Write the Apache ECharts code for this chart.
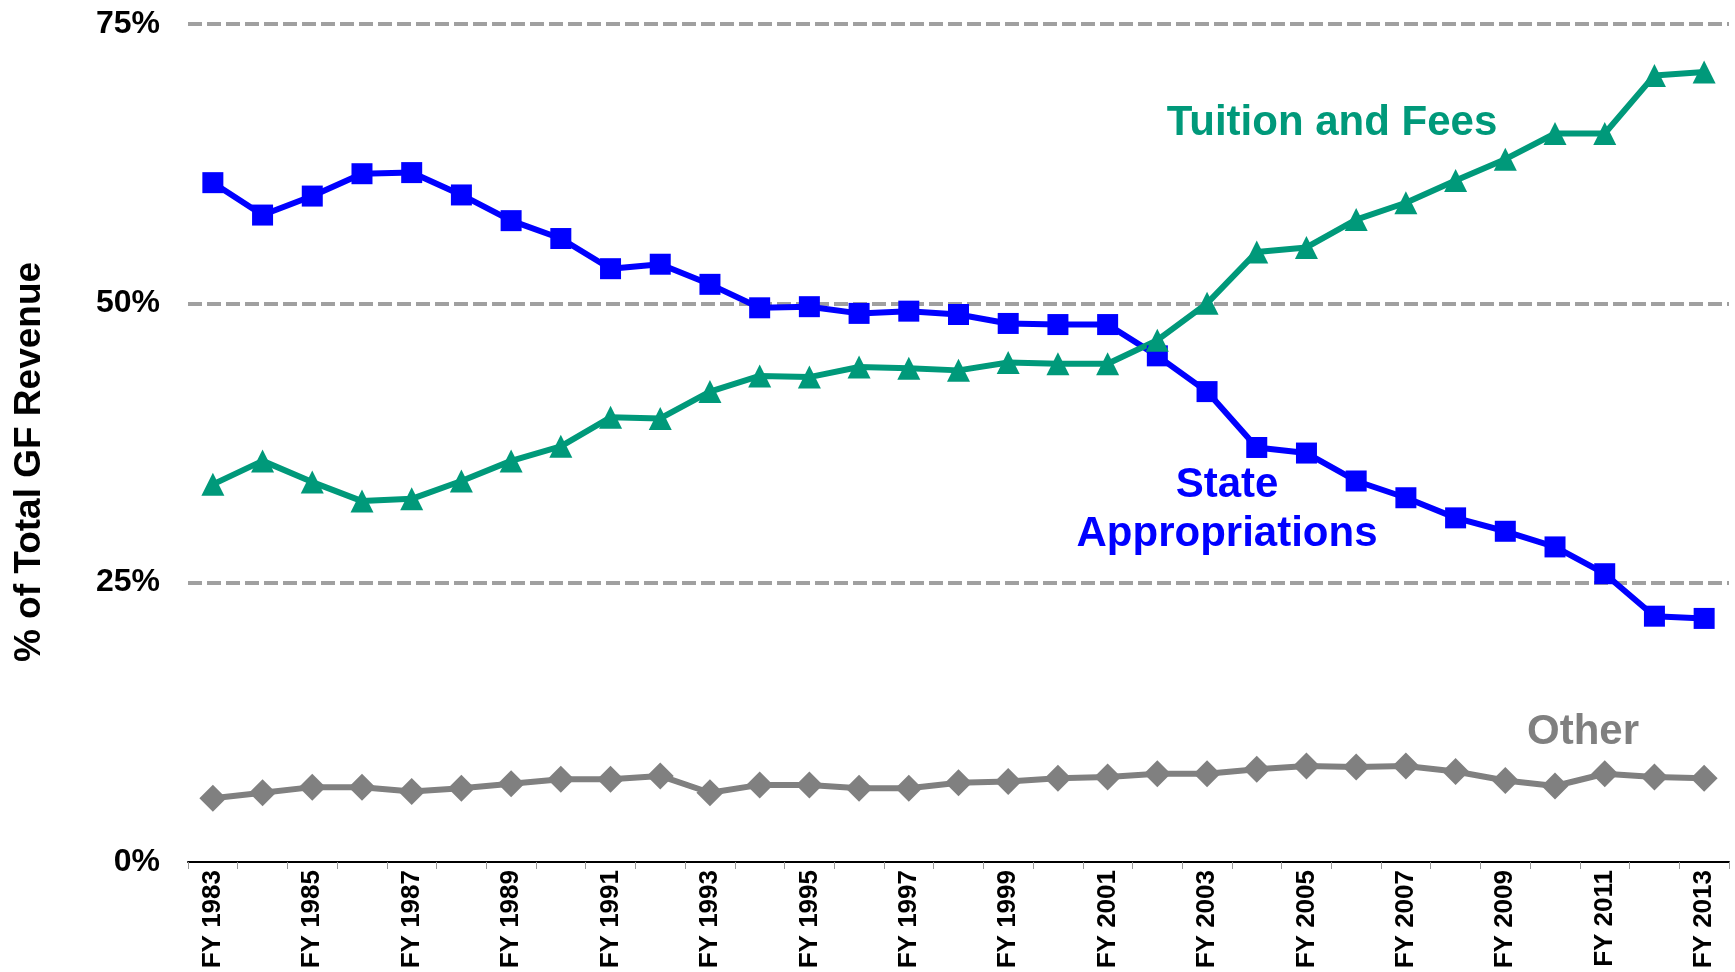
<!DOCTYPE html>
<html>
<head>
<meta charset="utf-8">
<script src="https://cdn.jsdelivr.net/npm/echarts@6/dist/echarts.min.js"></script>
<style>
html, body { margin: 0; padding: 0; background: #fff; }
#chart { width: 1735px; height: 972px; }
</style>
</head>
<body>
<div id="chart"></div>
<script>
// fiscal years on the x axis
var years = ['FY 1983', 'FY 1984', 'FY 1985', 'FY 1986', 'FY 1987', 'FY 1988', 'FY 1989', 'FY 1990',
    'FY 1991', 'FY 1992', 'FY 1993', 'FY 1994', 'FY 1995', 'FY 1996', 'FY 1997', 'FY 1998',
    'FY 1999', 'FY 2000', 'FY 2001', 'FY 2002', 'FY 2003', 'FY 2004', 'FY 2005', 'FY 2006',
    'FY 2007', 'FY 2008', 'FY 2009', 'FY 2010', 'FY 2011', 'FY 2012', 'FY 2013']

// % of total GF revenue
var stateAppropriations = [60.8, 57.9, 59.6, 61.6, 61.7, 59.7, 57.4, 55.8, 53.1, 53.5, 51.7, 49.6, 49.7,
    49.1, 49.3, 49.0, 48.2, 48.1, 48.1, 45.3, 42.1, 37.1, 36.6, 34.1, 32.6, 30.8, 29.6, 28.2, 25.8, 22.0, 21.8]
var tuitionAndFees = [33.8, 35.9, 34.0, 32.3, 32.5, 34.1, 35.9, 37.2, 39.8, 39.7, 42.1, 43.5, 43.4,
    44.3, 44.2, 44.0, 44.7, 44.6, 44.6, 46.7, 50.0, 54.6, 55.0, 57.5, 59.0, 61.0, 62.9, 65.2, 65.2, 70.4, 70.7]
var other = [5.7, 6.2, 6.7, 6.7, 6.3, 6.6, 7.0, 7.4, 7.4, 7.7, 6.2, 6.9, 6.9,
    6.6, 6.6, 7.1, 7.2, 7.5, 7.6, 7.9, 7.9, 8.3, 8.6, 8.5, 8.6, 8.1, 7.3, 6.8, 7.9, 7.6, 7.5]

var yTicks = { min: 0, max: 75, interval: 25 }

var FONT = '"Liberation Sans", Arial, sans-serif'
var BLUE = '#0000FF'
var GREEN = '#00997A'
var GRAY = '#808080'

var chart = echarts.init(document.getElementById('chart'))

var option = {
    animation: false,
    backgroundColor: '#fff',
    grid: {
        left: 188,
        right: 6,
        top: 24,
        bottom: 110,
        outerBoundsMode: 'none',
        containLabel: false
    },
    xAxis: {
        type: 'category',
        data: years,
        boundaryGap: true,
        z: 5,
        axisLine: { lineStyle: { color: '#000', width: 2 } },
        axisTick: {
            show: true,
            length: 7,
            interval: 0,
            lineStyle: { color: '#999', width: 1 }
        },
        axisLabel: {
            interval: 1,
            rotate: 90,
            margin: 8,
            color: '#000',
            fontFamily: FONT,
            fontWeight: 'bold',
            fontSize: 26
        }
    },
    yAxis: {
        type: 'value',
        min: yTicks.min,
        max: yTicks.max,
        interval: yTicks.interval,
        axisLine: { show: false },
        axisTick: { show: false },
        axisLabel: {
            formatter: '{value}%',
            margin: 28,
            color: '#000',
            fontFamily: FONT,
            fontWeight: 'bold',
            fontSize: 32
        },
        splitLine: {
            showMinLine: false,
            lineStyle: { color: '#a0a0a0', width: 4, type: [14, 5] }
        }
    },
    // y axis title and the series annotations
    graphic: [
        {
            type: 'text', x: 30, y: 462, rotation: Math.PI / 2,
            style: {
                text: '% of Total GF Revenue', fill: '#000',
                font: 'bold 37px ' + FONT, textAlign: 'center', textVerticalAlign: 'middle'
            }
        },
        {
            type: 'text', x: 1332, y: 123,
            style: {
                text: 'Tuition and Fees', fill: GREEN,
                font: 'bold 42px ' + FONT, textAlign: 'center', textVerticalAlign: 'middle'
            }
        },
        {
            type: 'text', x: 1227, y: 485,
            style: {
                text: 'State', fill: BLUE,
                font: 'bold 42px ' + FONT, textAlign: 'center', textVerticalAlign: 'middle'
            }
        },
        {
            type: 'text', x: 1227, y: 534,
            style: {
                text: 'Appropriations', fill: BLUE,
                font: 'bold 42px ' + FONT, textAlign: 'center', textVerticalAlign: 'middle'
            }
        },
        {
            type: 'text', x: 1583, y: 732,
            style: {
                text: 'Other', fill: GRAY,
                font: 'bold 42px ' + FONT, textAlign: 'center', textVerticalAlign: 'middle'
            }
        }
    ],
    series: [
        {
            name: 'State Appropriations',
            type: 'line',
            data: stateAppropriations,
            symbol: 'rect',
            symbolSize: 21,
            showAllSymbol: true,
            lineStyle: { color: BLUE, width: 6 },
            itemStyle: { color: BLUE }
        },
        {
            name: 'Tuition and Fees',
            type: 'line',
            data: tuitionAndFees,
            symbol: 'triangle',
            symbolSize: 23,
            showAllSymbol: true,
            lineStyle: { color: GREEN, width: 6 },
            itemStyle: { color: GREEN }
        },
        {
            name: 'Other',
            type: 'line',
            data: other,
            symbol: 'diamond',
            symbolSize: 27,
            showAllSymbol: true,
            lineStyle: { color: GRAY, width: 6 },
            itemStyle: { color: GRAY }
        }
    ]
}

chart.setOption(option)
</script>
</body>
</html>
